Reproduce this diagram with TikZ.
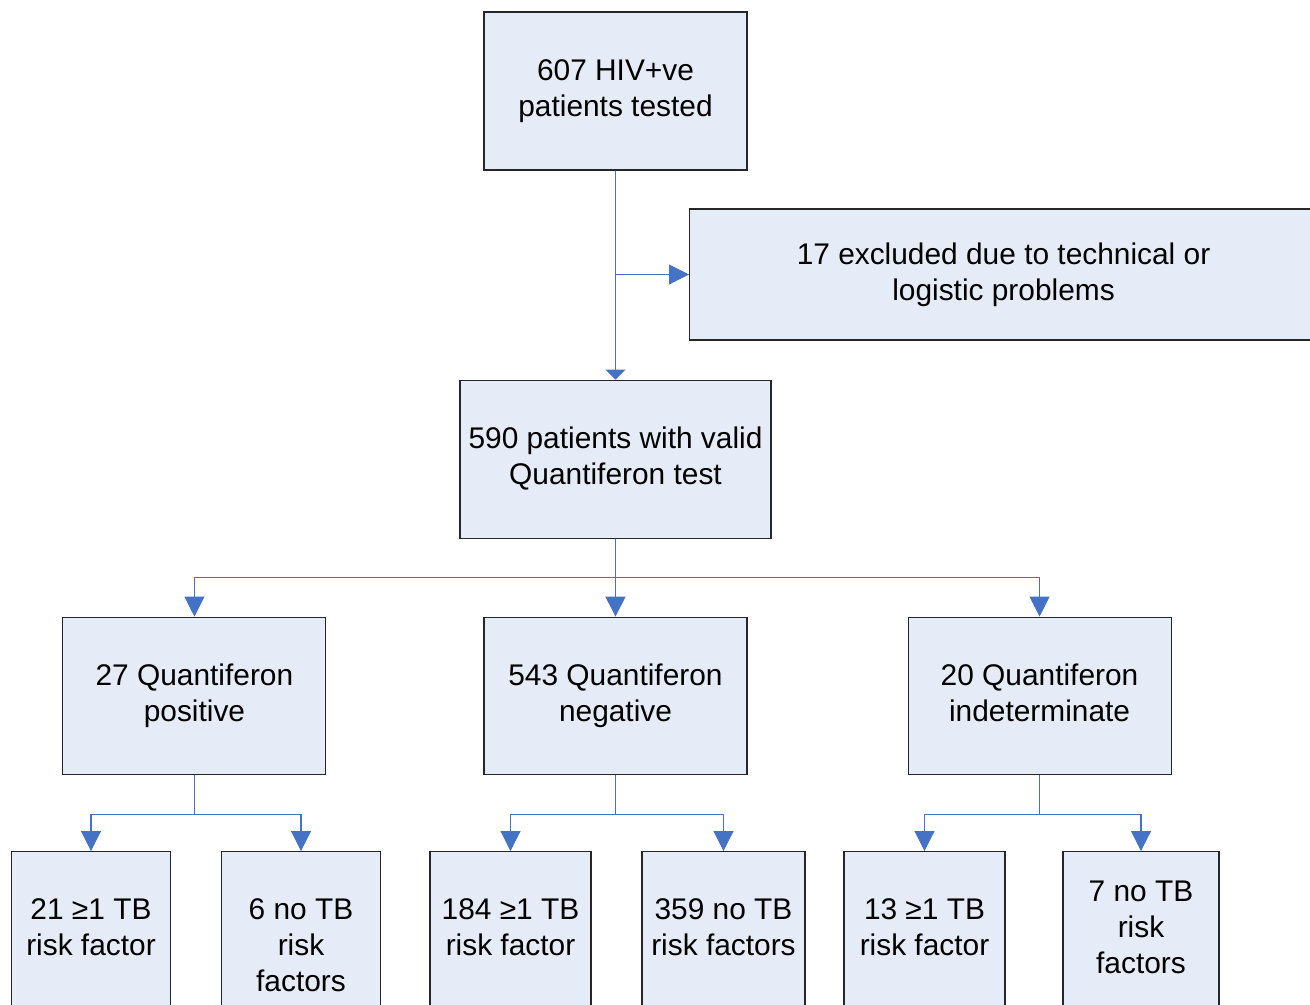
\documentclass[tikz,border=0pt]{standalone}
\usepackage{fontspec}
\setmainfont{Liberation Sans}
\usepackage{xcolor}
\usepackage{tikz}
\usetikzlibrary{positioning,calc,arrows.meta}

\definecolor{boxfill}{RGB}{230,236,247}
\definecolor{linkblue}{RGB}{68,114,196}
\newcommand{\topstrut}{\rule{0pt}{15pt}}
\newcommand{\botstrut}{\rule[-3.6pt]{0pt}{3.6pt}}

\begin{document}
\begin{tikzpicture}[
		box/.style={draw=black!85, line width=0.6pt, fill=boxfill, align=center,
			minimum width=5.26cm, minimum height=3.16cm, inner sep=2pt,
			font=\fontsize{17}{20.4}\selectfont,
			execute at begin node=\topstrut, execute at end node=\botstrut},
		small/.style={box, minimum width=3.18cm},
		link/.style={draw=linkblue, line width=0.6pt},
		tip/.style={-{Triangle[width=0.4cm,length=0.4cm]}, linkblue}
	]
		\useasboundingbox (0,0) rectangle (26.2,-20.08);
		\clip (0,0) rectangle (26.2,-20.08);

		\node[box] (tested) at (12.31,-1.82) {607 HIV+ve\\patients tested};
		\node[box, below=4.18cm of tested, minimum width=6.22cm] (valid) {590 patients with valid\\Quantiferon test};
		\node[box, minimum width=12.56cm, minimum height=2.62cm, anchor=west] (excluded) at (13.78,-5.49) {17 excluded due to technical or\\logistic problems};
		\node[box, below=1.56cm of valid, minimum height=3.14cm] (neg) {543 Quantiferon\\negative};
		\node[box, left=3.14cm of neg, minimum height=3.14cm] (pos) {27 Quantiferon\\positive};
		\node[box, right=3.2cm of neg, minimum height=3.14cm] (indet) {20 Quantiferon\\indeterminate};

		\node[small, anchor=north] (pos1) at (1.82,-17.02) {21 ≥1 TB\\risk factor};
		\node[small, anchor=north, execute at begin node={}, execute at end node={},
			label={[align=center, font=\fontsize{17}{20.4}\selectfont, yshift=-0.3cm]center:6 no TB\\risk\\factors}] (pos0) at (6.02,-17.02) {};
		\node[small, anchor=north, minimum width=3.22cm] (neg1) at (10.21,-17.02) {184 ≥1 TB\\risk factor};
		\node[small, anchor=north, minimum width=3.26cm] (neg0) at (14.47,-17.02) {359 no TB\\risk factors};
		\node[small, anchor=north, minimum width=3.22cm] (ind1) at (18.49,-17.02) {13 ≥1 TB\\risk factor};
		\node[small, anchor=north, minimum width=3.12cm] (ind0) at (22.82,-17.02) {7 no TB\\risk\\factors};

		% top part
		\draw[link, -{Triangle[width=0.4cm,length=0.2cm]}, linkblue] (tested.south) -- (valid.north);
		\coordinate (exj) at (tested.south |- excluded.west);
		\draw[link, tip] (exj) -- (excluded.west);

		% three results
		\draw[link] (valid.south) -- ++(0,-0.78) coordinate (split);
		\draw[link, tip] (split) -| (pos.north);
		\draw[link, tip] (split) -| (indet.north);
		\draw[link, tip] (split) -- (neg.north);

		% risk factors
		\foreach \p/\a/\b in {pos/pos1/pos0, neg/neg1/neg0, indet/ind1/ind0}{
			\draw[link] (\p.south) -- ++(0,-0.8) coordinate (\p-split);
			\draw[link, tip] (\p-split) -| (\a.north);
			\draw[link, tip] (\p-split) -| (\b.north);
		}
	\end{tikzpicture}
\end{document}
